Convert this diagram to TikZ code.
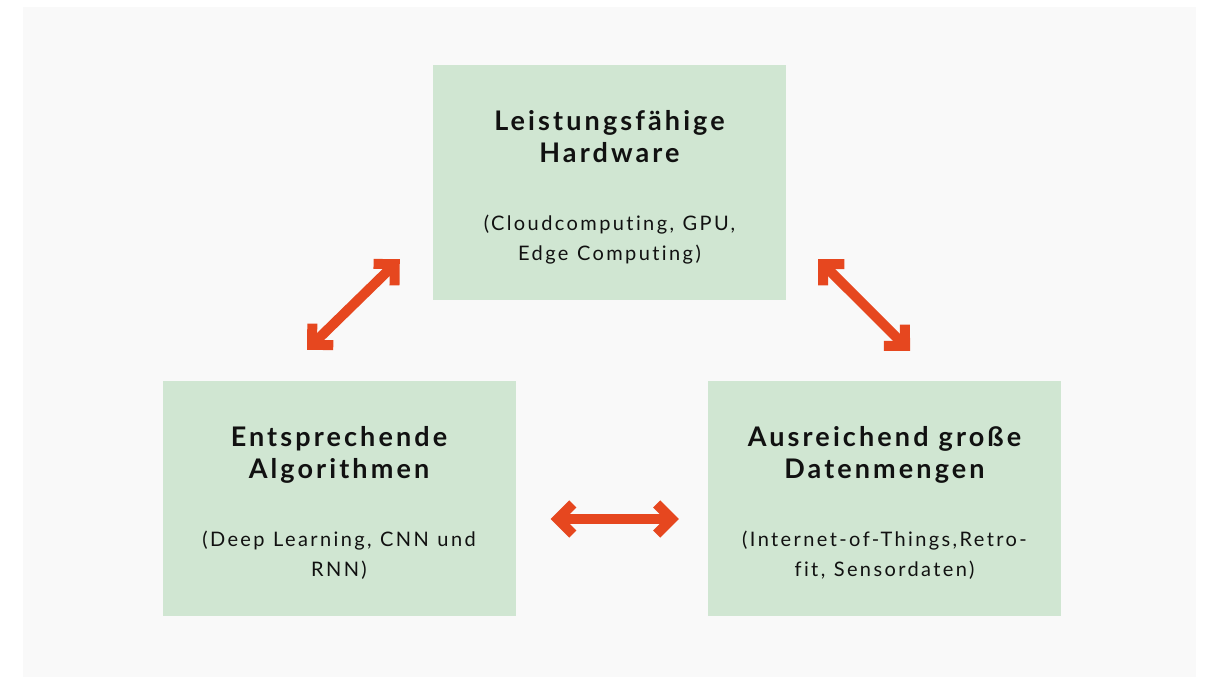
\documentclass[tikz,border=0pt]{standalone}
\usepackage{fontspec}
\setmainfont{Lato}[LetterSpace=12, Ligatures={NoCommon}, BoldFeatures={LetterSpace=11.5}]
\usetikzlibrary{arrows.meta,calc}

\definecolor{boxgreen}{RGB}{208,230,210}
\definecolor{arrowred}{RGB}{230,71,31}
\definecolor{bggrey}{RGB}{249,249,249}
\definecolor{txtblack}{RGB}{17,17,17}

\newcommand{\ttlfont}{\bfseries\fontsize{27}{32}\selectfont\spaceskip=10pt\relax}
\newcommand{\subfont}{\fontsize{20}{31}\selectfont\spaceskip=8.5pt\relax}
% one centred line whose baseline sits exactly where the skips put it
\newcommand{\boxline}[2]{\hbox to\hsize{\hss\smash{#1#2}\hss}}
\newcommand{\boxtext}[4]{\offinterlineskip\vskip25pt
  \boxline{\ttlfont}{#1}\vskip32pt
  \boxline{\ttlfont}{#2}\vskip68pt
  \boxline{\subfont}{#3}\vskip30pt
  \boxline{\subfont}{#4}}

\begin{document}
\begin{tikzpicture}[x=1pt,y=-1pt,
    pillar/.style={fill=boxgreen, minimum width=353pt, minimum height=235pt,
      text width=350pt, align=center, text=txtblack, inner sep=0pt},
    biarrow/.style={draw=arrowred, line width=10pt,
      {Straight Barb[length=15pt,width=30pt,line width=10pt,sharp]}-{Straight Barb[length=15pt,width=30pt,line width=10pt,sharp]}}]

    % canvas and grey background
    \useasboundingbox (0,0) rectangle (1209,678);
    \fill[bggrey] (23,7) rectangle (1196,677);

    % the three boxes
    \node[pillar] (hw) at (609.5,182.5)
      {\boxtext{Leistungsfähige}{Hardware}{(Cloudcomputing, GPU,}{Edge Computing)}};
    \node[pillar] (alg) at (339,498.5)
      {\boxtext{Entsprechende}{Algorithmen}{(Deep Learning, CNN und}{RNN)}};
    \node[pillar] (data) at (884.5,498.5)
      {\boxtext{Ausreichend große}{Datenmengen}{(Internet-of-Things,Retro-}{fit, Sensordaten)}};

    % arrows between them
    \draw[biarrow] ($(alg.north)+(-32,-31)$) -- ($(hw.south west)+(-33,-41)$);
    \draw[biarrow] ($(hw.south east)+(32,-41)$) -- ($(data.north)+(25.5,-30)$);
    \draw[biarrow] ($(alg.east)+(35,20.5)$) -- ($(data.west)+(-29,20.5)$);

\end{tikzpicture}
\end{document}
